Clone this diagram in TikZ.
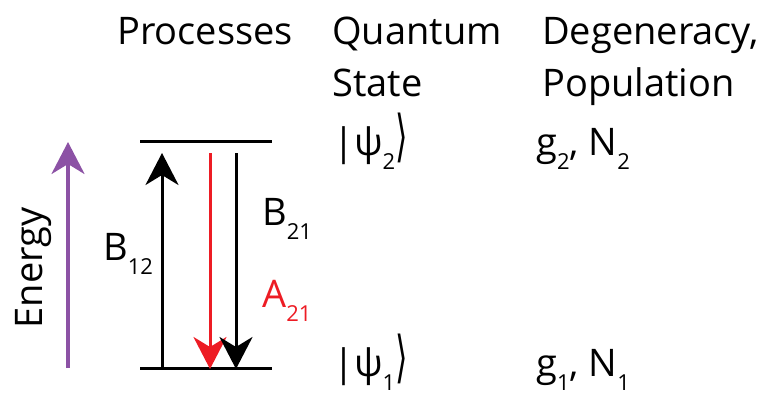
\documentclass[tikz,border=0pt]{standalone}
\usepackage{graphicx}
\usepackage{fontspec}
\setmainfont{Open Sans}
\newfontfamily\djv{DejaVu Sans}
\usetikzlibrary{arrows.meta}
\definecolor{epurple}{RGB}{140,82,165}
\definecolor{ared}{RGB}{237,28,36}
\newcommand\sbs[1]{\raisebox{-14pt}{\fontsize{22}{22}\selectfont #1}}
\newcommand\ketr{\scalebox{0.8}[1.4]{\djv\fontsize{40}{40}\selectfont ⟩}}
\tikzset{
  lbl/.style={inner sep=0pt, font=\fontsize{38}{52}\selectfont},
  hdr/.style={lbl, anchor=north west, align=left},
  lvl/.style={line width=3pt},
  trans/.style={line width=3pt, -{Stealth[length=32pt,width=33pt,inset=10pt]}},
}
\begin{document}
\begin{tikzpicture}[x=1pt,y=-1pt]
\useasboundingbox (0,0) rectangle (778,394);
\node[hdr] (proc) at (117,17) {Processes};
\node[hdr] (qs) at (332,17) {Quantum\\State};
\node[hdr] (dp) at (542,17) {Degeneracy,\\Population};
% levels
\coordinate (u1) at (140,141); \coordinate (u2) at (272,141);
\coordinate (l1) at (140,368); \coordinate (l2) at (272,368);
\draw[lvl] (u1) -- (u2);
\draw[lvl] (l1) -- (l2);
% energy
\coordinate (e0) at (68,368); \coordinate (e1) at (68,142);
\draw[line width=3.5pt, epurple, -{Stealth[length=32pt,width=33pt,inset=10pt]}] (e0) -- (e1);
\node[lbl, rotate=90] (en) at (33,268) {Energy};
% transitions
\coordinate (b12s) at (162,368); \coordinate (b12e) at (162,153);
\draw[trans] (b12s) -- (b12e);
\coordinate (a21s) at (210,153); \coordinate (a21e) at (210,369);
\draw[trans, ared] (a21s) -- (a21e);
\coordinate (b21s) at (236,153); \coordinate (b21e) at (236,369);
\draw[trans] (b21s) -- (b21e);
\node[lbl, anchor=base west] (lb12) at (103,260) {B\sbs{12}};
\node[lbl, anchor=base west] (lb21) at (262,225) {B\sbs{21}};
\node[lbl, anchor=base west, text=ared] (la21) at (262,307) {A\sbs{21}};
% states
\node[lbl, anchor=base west] (psi2) at (333,155) {|ψ\sbs{2}\ketr};
\node[lbl, anchor=base west] (psi1) at (333,376) {|ψ\sbs{1}\ketr};
\node[lbl, anchor=base west] (g2) at (536,155) {g\sbs{2}, N\sbs{2}};
\node[lbl, anchor=base west] (g1) at (536,376) {g\sbs{1}, N\sbs{1}};
\end{tikzpicture}
\end{document}
